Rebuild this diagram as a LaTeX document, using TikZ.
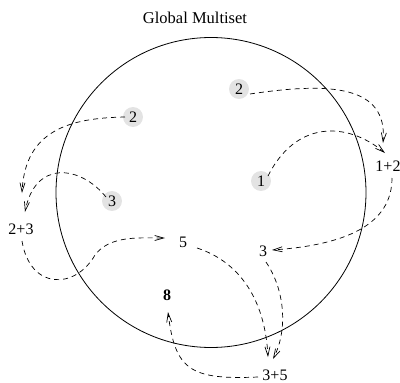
\documentclass[tikz,border=0pt]{standalone}
\usepackage{fontspec}
\setmainfont{Liberation Serif}
\usetikzlibrary{arrows.meta,calc}
\begin{document}
\begin{tikzpicture}[x=1pt,y=-1pt,
  lbl/.style={inner sep=1pt,font=\fontsize{16}{19}\selectfont},
  elem/.style={circle,fill=black!11,minimum size=20pt,inner sep=0pt,font=\fontsize{16}{19}\selectfont},
  flow/.style={line width=0.7pt,dash pattern=on 5pt off 4pt,-{Straight Barb[length=9pt,width=5pt,line width=0.7pt]}}]
\useasboundingbox (0,0) rectangle (400,383);
\node[font=\fontsize{16.5}{19}\selectfont] (title) at (195,18) {Global Multiset};
\draw[line width=0.8pt] (211,192.5) circle (155);
\node[elem] (g2a) at (239,89) {2};
\node[elem] (g2b) at (133,117) {2};
\node[elem] (g1) at (261,181) {1};
\node[elem] (g3) at (112,201) {3};
\node[lbl] (p12) at (388,166) {1+2};
\node[lbl] (p23) at (21,229) {2+3};
\node[lbl] (n5) at (183,242) {5};
\node[lbl] (n3) at (263,251) {3};
\node[lbl,font=\fontsize{16}{19}\selectfont\bfseries] (n8) at (167,295) {8};
\node[lbl] (p35) at (275,375) {3+5};
% connectors
\draw[flow] ($(g2a)+(11,5)$) .. controls (330,82) and (388,85) .. ($(p12)+(-5,-23)$);
\draw[flow] ($(g1)+(7,-5)$) .. controls (295,122) and (345,120) .. ($(p12)+(-3,-13)$);
\draw[flow] ($(g2b)+(-8,0)$) .. controls (70,118) and (25,130) .. ($(p23)+(1,-36)$);
\draw[flow] ($(g3)+(-6,-4)$) .. controls (80,165) and (35,160) .. ($(p23)+(4,-17)$);
\draw[flow] ($(p23)+(1,12)$) .. controls (30,290) and (75,290) .. (95,255) .. controls (110,235) and (140,238) .. ($(n5)+(-18,-4)$);
\draw[flow] ($(p12)+(4,12)$) .. controls (392,225) and (345,245) .. ($(n3)+(9,-1)$);
\draw[flow] ($(n5)+(14,6)$) .. controls (240,262) and (265,300) .. ($(p35)+(-7,-18)$);
\draw[flow] ($(n3)+(3,11)$) .. controls (285,290) and (288,330) .. ($(p35)+(-2,-16)$);
\draw[flow] ($(p35)+(-17,2)$) .. controls (190,380) and (175,370) .. ($(n8)+(1,17)$);
\end{tikzpicture}
\end{document}
